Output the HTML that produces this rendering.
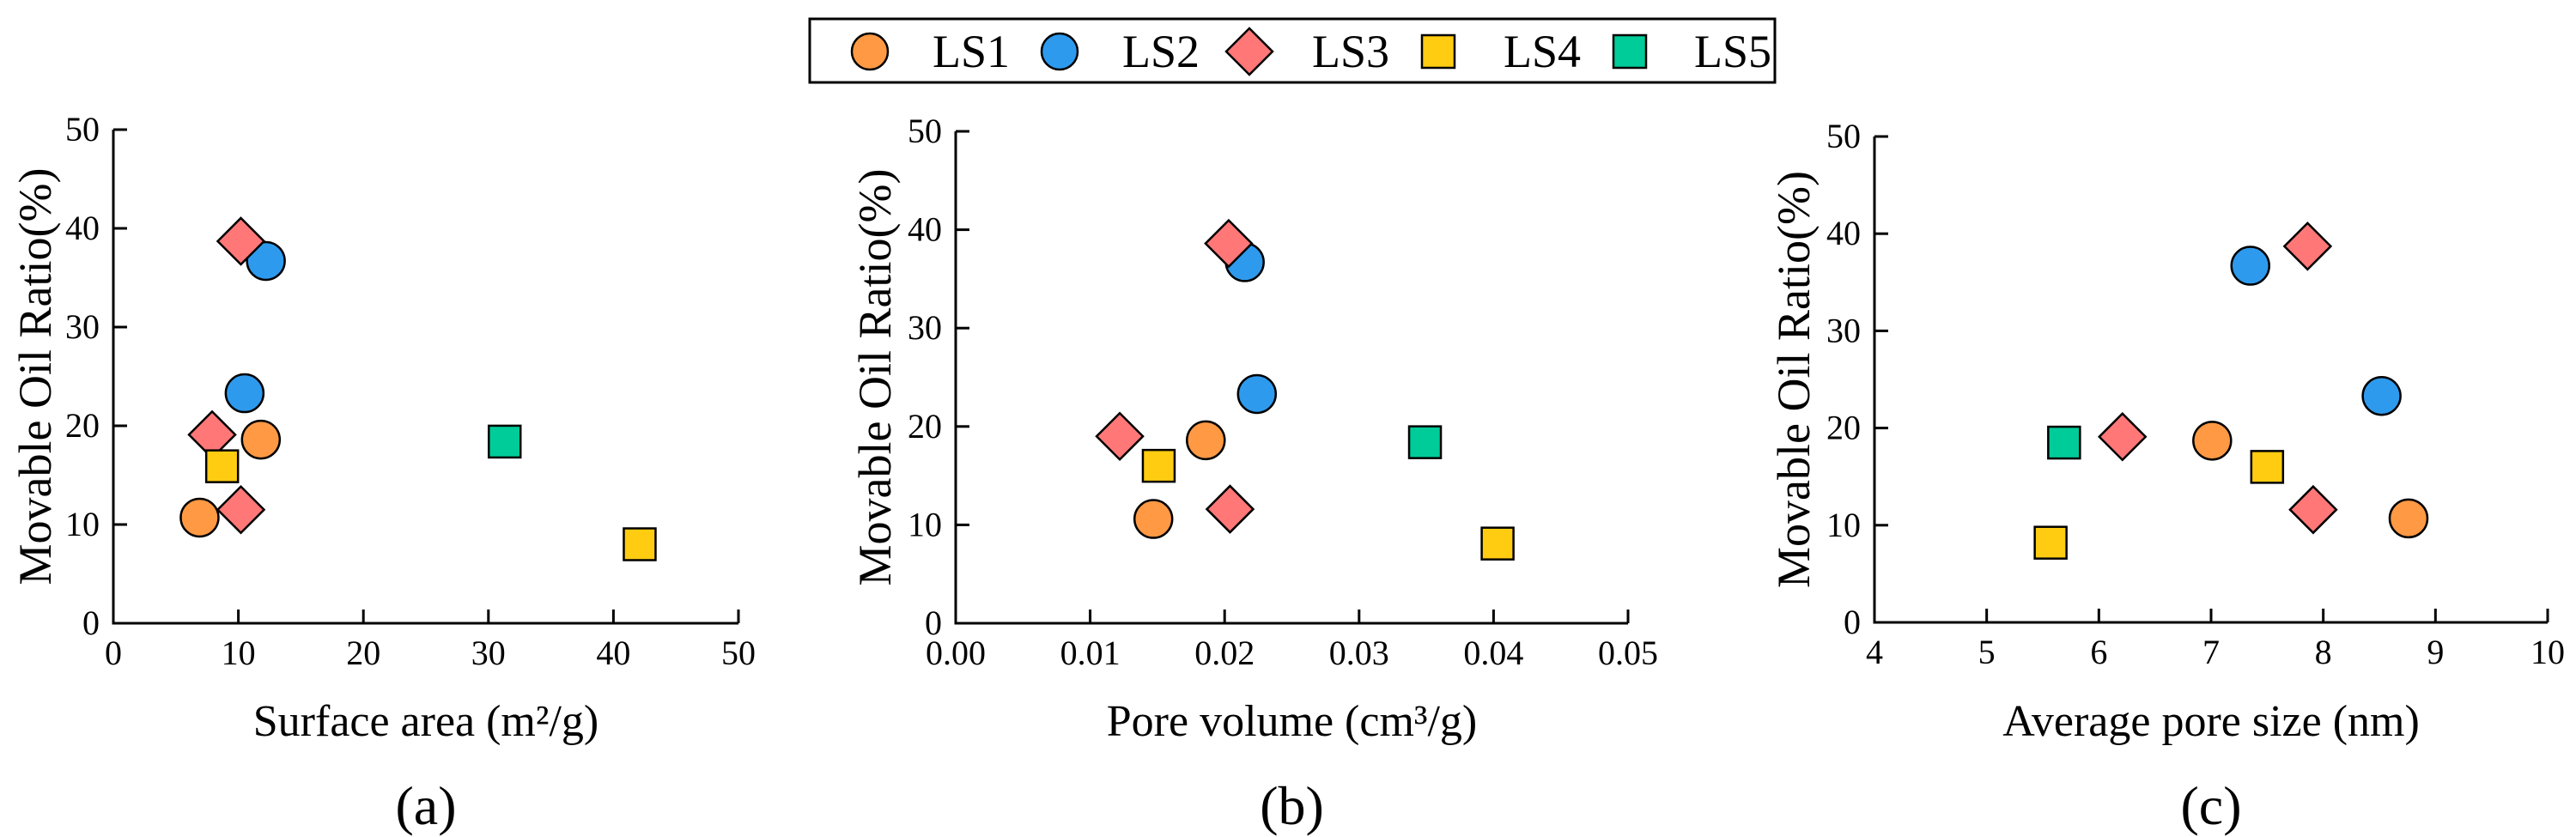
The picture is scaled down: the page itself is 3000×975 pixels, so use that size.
<!DOCTYPE html>
<html><head><meta charset="utf-8"><style>
html,body{margin:0;padding:0;background:#fff;}
svg{display:block;font-family:"Liberation Serif",serif;}
</style></head><body>
<svg id="fig" width="3000" height="975" viewBox="0 0 3000 975">
<g>
<rect x="943" y="22" width="1124" height="74" fill="#fff" stroke="#000" stroke-width="3"/>
<g><circle cx="1013" cy="60" r="21" fill="#FF9944" stroke="#000" stroke-width="2.5"/><text x="1086" y="78" font-size="54">LS1</text></g>
<g><circle cx="1234" cy="60" r="21" fill="#2E9AEE" stroke="#000" stroke-width="2.5"/><text x="1307" y="78" font-size="54">LS2</text></g>
<g><polygon points="1455,33 1482,60 1455,87 1428,60" fill="#FF7777" stroke="#000" stroke-width="2.5"/><text x="1528" y="78" font-size="54">LS3</text></g>
<g><rect x="1656" y="41" width="38" height="38" fill="#FFCC11" stroke="#000" stroke-width="2.5"/><text x="1751" y="78" font-size="54">LS4</text></g>
<g><rect x="1879" y="41" width="38" height="38" fill="#00CC99" stroke="#000" stroke-width="2.5"/><text x="1973" y="78" font-size="54">LS5</text></g>
</g>
</svg>
<script>
// Panel (a): surface area
const aX = [[6.9,11.8],[10.5,12.2],[10.2,7.9,10.2],[8.7,42.1],[31.3]];
const aY = [[10.7,18.6],[23.3,36.7],[38.7,19.1,11.5],[15.9,8.0],[18.4]];
// Panel (b): pore volume
const bX = [[0.0147,0.0186],[0.0215,0.0224],[0.0203,0.0122,0.0204],[0.0151,0.0403],[0.0349]];
const bY = [[10.6,18.6],[36.7,23.3],[38.6,19.0,11.6],[16.0,8.1],[18.4]];
// Panel (c): average pore size
const cX = [[7.01,8.76],[7.35,8.52],[7.86,6.21,7.91],[7.50,5.57],[5.69]];
const cY = [[18.7,10.7],[36.7,23.3],[38.7,19.1,11.6],[16.0,8.2],[18.5]];
const seriesNames = ["LS1","LS2","LS3","LS4","LS5"];
const aTicks = ["0","10","20","30","40","50"];
const bTicks = ["0.00","0.01","0.02","0.03","0.04","0.05"];
const cTicks = ["4","5","6","7","8","9","10"];
const yTicks = ["0","10","20","30","40","50"];

const NS="http://www.w3.org/2000/svg";
const svg=document.getElementById('fig');
const colors=["#FF9944","#2E9AEE","#FF7777","#FFCC11","#00CC99"];
const shapes=["circle","circle","diamond","square","square"];
function mk(tag,attrs,parent){const e=document.createElementNS(NS,tag);for(const k in attrs)e.setAttribute(k,attrs[k]);parent.appendChild(e);return e;}

const panels=[
 {id:"a",x0:132,x1:860,y0:726,y1:151,xmin:0,xmax:50,ticks:aTicks,xs:aX,ys:aY,xt:"Surface area (m²/g)",ytx:41,lab:"(a)"},
 {id:"b",x0:1113,x1:1896,y0:726,y1:153,xmin:0,xmax:0.05,ticks:bTicks,xs:bX,ys:bY,xt:"Pore volume (cm³/g)",ytx:1019,lab:"(b)"},
 {id:"c",x0:2183,x1:2967,y0:725,y1:159,xmin:4,xmax:10,ticks:cTicks,xs:cX,ys:cY,xt:"Average pore size (nm)",ytx:2089,lab:"(c)"}
];
panels.forEach(p=>{
 const g=mk('g',{},svg);
 
 
 const sx=v=>p.x0+(v-p.xmin)/(p.xmax-p.xmin)*(p.x1-p.x0);
 const sy=v=>p.y0+(v-0)/50*(p.y1-p.y0);
 const ax=mk('path',{d:`M${p.x0},${p.y1}V${p.y0}H${p.x1}`,fill:'none',stroke:'#000','stroke-width':3},g);
 
 
 p.ticks.forEach(t=>{const v=parseFloat(t);const x=sx(v);
  mk('line',{x1:x,x2:x,y1:p.y0,y2:p.y0-16,stroke:'#000','stroke-width':3},g);
  const tx=mk('text',{x:x,y:p.y0+48,'font-size':40,'text-anchor':'middle'},g);tx.textContent=t;
  
  
 });
 yTicks.forEach(t=>{const v=parseFloat(t);const y=sy(v);
  mk('line',{x1:p.x0,x2:p.x0+16,y1:y,y2:y,stroke:'#000','stroke-width':3},g);
  const tx=mk('text',{x:p.x0-16,y:y+13,'font-size':40,'text-anchor':'end'},g);tx.textContent=t;
  
  
 });
 const xt=mk('text',{x:(p.x0+p.x1)/2,y:857,'font-size':52,'text-anchor':'middle'},g);xt.textContent=p.xt;
 
 
 const yc=(p.y0+p.y1)/2;
 const yt=mk('text',{x:p.ytx+18,y:yc,'font-size':54,'text-anchor':'middle',transform:`rotate(-90 ${p.ytx+18} ${yc})`},g);yt.textContent="Movable Oil Ratio(%)";
 
 
 const lb=mk('text',{x:(p.x0+p.x1)/2,y:960,'font-size':64,'text-anchor':'middle'},g);lb.textContent=p.lab;
 
 
 p.xs.forEach((arr,s)=>{arr.forEach((xv,i)=>{
  const cx=sx(xv),cy=sy(p.ys[s][i]);let m;
  const st={fill:colors[s],stroke:'#000','stroke-width':2.5};
  if(shapes[s]==="circle")m=mk('circle',Object.assign({cx:cx,cy:cy,r:22},st),g);
  else if(shapes[s]==="diamond")m=mk('polygon',Object.assign({points:`${cx},${cy-27} ${cx+27},${cy} ${cx},${cy+27} ${cx-27},${cy}`},st),g);
  else m=mk('rect',Object.assign({x:cx-18.5,y:cy-18.5,width:37,height:37},st),g);
  
  
 });});
});
</script>
</body></html>
